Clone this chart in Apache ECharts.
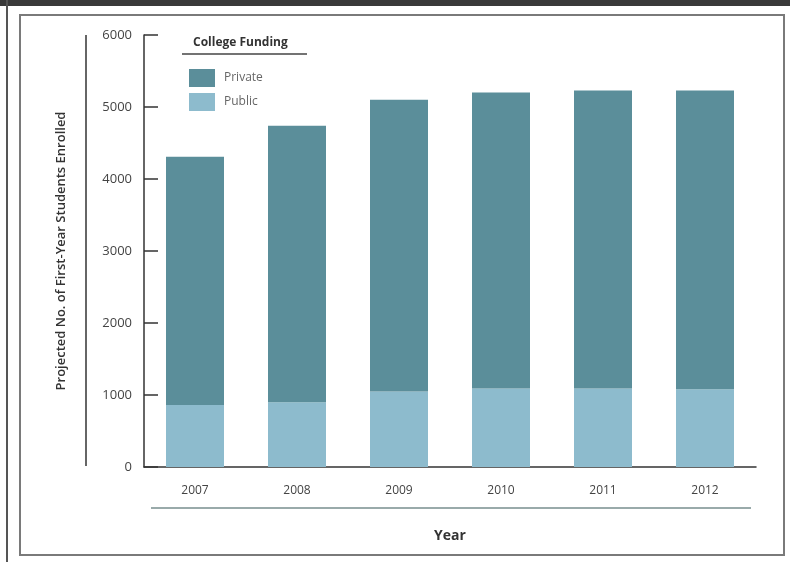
<!DOCTYPE html>
<html>
<head>
<meta charset="utf-8">
<script src="https://cdn.jsdelivr.net/npm/echarts@6/dist/echarts.min.js"></script>
<style>
  html, body { margin: 0; padding: 0; background: #fff; }
  #chart { width: 790px; height: 562px; }
</style>
</head>
<body>
<div id="chart"></div>
<script>
var years = ['2007', '2008', '2009', '2010', '2011', '2012'];
var publicVals = [860, 900, 1050, 1090, 1090, 1080];
var privateVals = [3450, 3840, 4050, 4110, 4140, 4150];
var yTicks = [0, 1000, 2000, 3000, 4000, 5000, 6000];

var chart = echarts.init(document.getElementById('chart'));
var font = 'Open Sans';

var option = {
    backgroundColor: '#ffffff',
    animation: false,
    textStyle: { fontFamily: font },
    grid: { left: 144, right: 34, top: 35, bottom: 95 },
    legend: {
        data: ['Private', 'Public'],
        orient: 'vertical',
        left: 184,
        top: 64,
        itemWidth: 26,
        itemHeight: 18,
        itemGap: 6,
        icon: 'rect',
        textStyle: { color: '#666', fontSize: 12, fontFamily: font, padding: [0, 0, 0, 4] }
    },
    xAxis: {
        type: 'category',
        data: years,
        boundaryGap: true,
        name: 'Year',
        nameLocation: 'middle',
        nameGap: 62,
        nameTextStyle: { color: '#333', fontSize: 14, fontWeight: 'bold', fontFamily: font },
        axisLine: { lineStyle: { color: '#333', width: 1.5 } },
        axisTick: { inside: true, length: 9, lineStyle: { color: '#333' } },
        axisLabel: { color: '#444', fontSize: 12, margin: 18, fontFamily: font }
    },
    yAxis: {
        type: 'value',
        min: yTicks[0],
        max: yTicks[yTicks.length - 1],
        interval: 1000,
        name: 'Projected No. of First-Year Students Enrolled',
        nameLocation: 'middle',
        nameGap: 76,
        nameTextStyle: { color: '#333', fontSize: 13, fontWeight: 600, fontFamily: font },
        axisLine: { show: true, lineStyle: { color: '#333', width: 1.5 } },
        axisTick: { show: true, inside: true, length: 14, lineStyle: { color: '#333', width: 1.5 } },
        axisLabel: {
            color: '#444', fontSize: 13, margin: 12, fontFamily: font,
            formatter: function(v) { return String(v); }
        },
        splitLine: { show: false }
    },
    series: [
        {
            name: 'Public',
            type: 'bar',
            stack: 'total',
            barWidth: 58,
            itemStyle: { color: '#8dbbcd' },
            data: publicVals
        },
        {
            name: 'Private',
            type: 'bar',
            stack: 'total',
            barWidth: 58,
            itemStyle: { color: '#5b8e9a' },
            data: privateVals
        }
    ],
    graphic: [
        // dark strip at the top and left edge
        { type: 'rect', shape: { x: 0, y: 0, width: 790, height: 6 }, style: { fill: '#3a3a3a' } },
        { type: 'rect', shape: { x: 6, y: 0, width: 2, height: 562 }, style: { fill: '#555' } },
        // frame
        { type: 'rect', shape: { x: 20, y: 15, width: 764, height: 540 }, style: { fill: null, stroke: '#7a7a7a', lineWidth: 2 } },
        // rule next to y axis title
        { type: 'line', shape: { x1: 86, y1: 35, x2: 86, y2: 466 }, style: { stroke: '#333', lineWidth: 1.5 } },
        // rule under year labels
        { type: 'line', shape: { x1: 151, y1: 508, x2: 751, y2: 508 }, style: { stroke: '#9aa', lineWidth: 2 } },
        // legend title
        { type: 'text', left: 193, top: 37, style: { text: 'College Funding', fill: '#333', font: 'bold 12px "Open Sans"' } },
        { type: 'line', shape: { x1: 182, y1: 54, x2: 307, y2: 54 }, style: { stroke: '#444', lineWidth: 1.5 } }
    ]
};

chart.setOption(option);
</script>
</body>
</html>
